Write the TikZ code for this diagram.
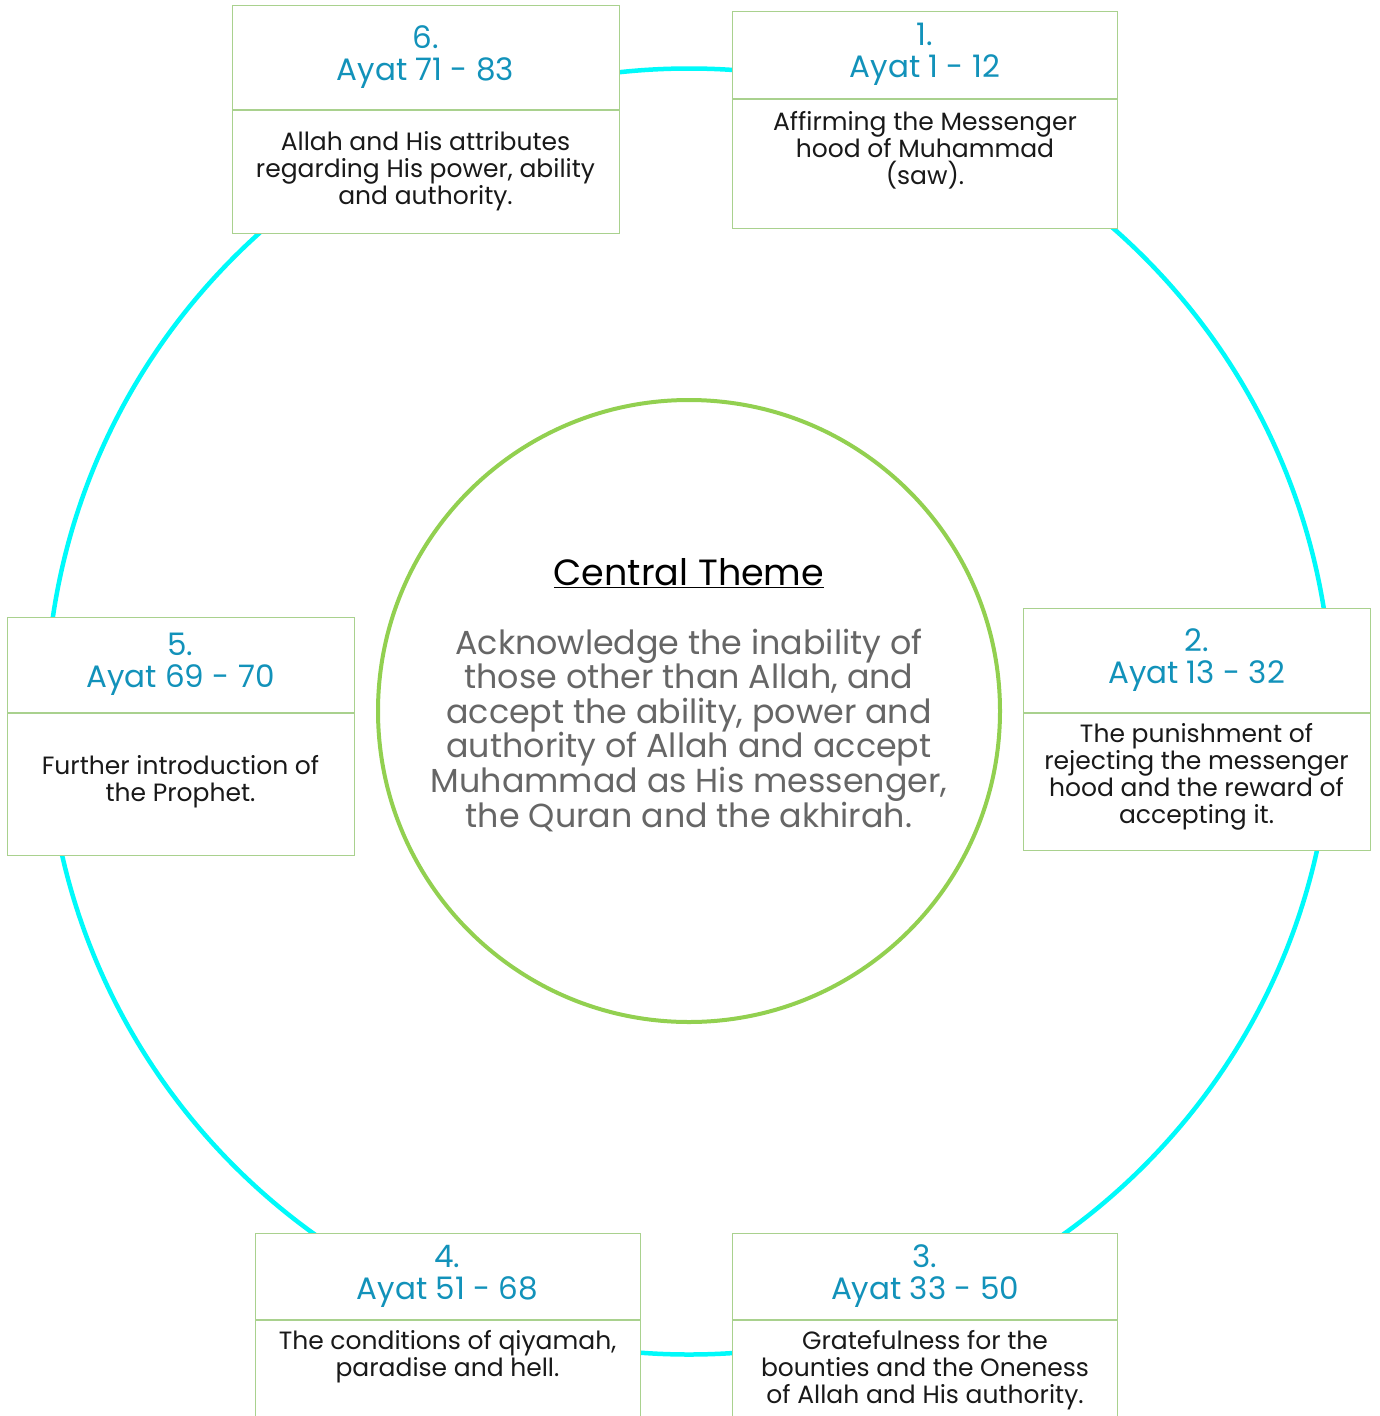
\documentclass[tikz,border=0pt]{standalone}
\usepackage{fontspec}
\setmainfont{Poppins}
\usetikzlibrary{positioning}
\definecolor{ringcyan}{RGB}{0,250,250}
\definecolor{coregreen}{RGB}{146,208,80}
\definecolor{boxgreen}{RGB}{169,209,142}
\definecolor{titleblue}{RGB}{18,146,186}
\definecolor{themegray}{RGB}{102,102,102}
\tikzset{
  hd/.style={draw=boxgreen, line width=1pt, fill=white, align=center, text=titleblue,
    font=\fontsize{31}{32}\selectfont, inner sep=0pt},
  bd/.style={draw=boxgreen, line width=1pt, fill=white, inner sep=0pt},
  txt/.style={align=center, font=\fontsize{25}{27}\selectfont, text=black!90, inner sep=0pt},
}
\begin{document}
\begin{tikzpicture}[x=1pt,y=-1pt]
  \useasboundingbox[fill=white] (0,0) rectangle (1380,1416);
  % outer ring and central circle
  \node[circle, draw=ringcyan, line width=4.5pt, minimum size=1286pt, inner sep=0pt] (ring) at (689,711.5) {};
  \node[circle, draw=coregreen, line width=4pt, minimum size=622pt, inner sep=0pt] (core) at (689,711) {};
  \node[align=center, inner sep=0pt, font=\fontsize{36.5}{36.5}\selectfont] (theme) at (689,573) {\underline{Central Theme}};
  \node[align=center, inner sep=0pt, text=themegray, font=\fontsize{33.3}{34.6}\selectfont] (themetxt) at (689,730)
    {Acknowledge the inability of\\those other than Allah, and\\accept the ability, power and\\authority of Allah and accept\\Muhammad as His messenger,\\the Quran and the akhirah.};
  % 1.
  \node[hd, minimum width=385pt, minimum height=87pt] (h1) at (925,54.5) {1.\\Ayat 1 - 12};
  \node[bd, minimum width=385pt, minimum height=129pt, below=0pt of h1] (b1) {};
  \node[txt] (t1) at (925,150) {Affirming the Messenger\\hood of Muhammad\\(saw).};
  % 2.
  \node[hd, minimum width=347pt, minimum height=104pt] (h2) at (1196.5,660) {2.\\Ayat 13 - 32};
  \node[bd, minimum width=347pt, minimum height=137pt, below=0pt of h2] (b2) {};
  \node[txt] (t2) at (1196.5,777) {The punishment of\\rejecting the messenger\\hood and the reward of\\accepting it.};
  % 3.
  \node[hd, minimum width=385pt, minimum height=86pt] (h3) at (925,1276) {3.\\Ayat 33 - 50};
  \node[bd, minimum width=385pt, minimum height=120pt, below=0pt of h3] (b3) {};
  \node[txt] (t3) at (925,1370) {Gratefulness for the\\bounties and the Oneness\\of Allah and His authority.};
  % 4.
  \node[hd, minimum width=385pt, minimum height=86pt] (h4) at (447.5,1276) {4.\\Ayat 51 - 68};
  \node[bd, minimum width=385pt, minimum height=120pt, below=0pt of h4] (b4) {};
  \node[txt] (t4) at (447.5,1357) {The conditions of qiyamah,\\paradise and hell.};
  % 5.
  \node[hd, minimum width=347pt, minimum height=95pt] (h5) at (180.5,664.5) {5.\\Ayat 69 - 70};
  \node[bd, minimum width=347pt, minimum height=142pt, below=0pt of h5] (b5) {};
  \node[txt] (t5) at (180.5,782) {Further introduction of\\the Prophet.};
  % 6.
  \node[hd, minimum width=387pt, minimum height=104pt] (h6) at (425.5,57) {6.\\Ayat 71 - 83};
  \node[bd, minimum width=387pt, minimum height=123pt, below=0pt of h6] (b6) {};
  \node[txt] (t6) at (425.5,171) {Allah and His attributes\\regarding His power, ability\\and authority.};
\end{tikzpicture}
\end{document}
